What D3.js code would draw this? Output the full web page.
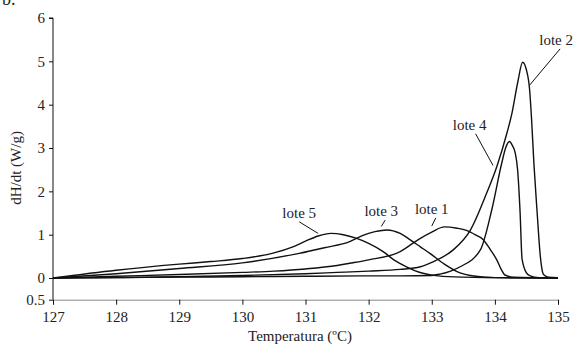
<!DOCTYPE html>
<html>
<head>
<meta charset="utf-8">
<script src="https://cdn.jsdelivr.net/npm/d3@7"></script>
<style>
  body { margin: 0; background: #fff; }
  svg { display: block; font-family: "Liberation Serif", "DejaVu Serif", serif; }
</style>
</head>
<body>
<svg id="chart" width="573" height="349"></svg>
<script>
// x ticks (temperature, ºC) and y ticks (dH/dt, W/g)
const xTicks = [127, 128, 129, 130, 131, 132, 133, 134, 135];
const yTicks = [-0.5, 0, 1, 2, 3, 4, 5, 6];

// curves: [temperature, dH/dt]
const lote1 = [[127,0],[128,0.04],[129,0.08],[130,0.13],[130.5,0.16],[131,0.21],[131.5,0.29],[131.7,0.34],
  [132,0.42],[132.5,0.61],[132.8,0.9],[133,1.06],[133.2,1.18],[133.4,1.15],[133.55,1.1],[133.7,0.99],
  [133.82,0.88],[133.93,0.65],[134.03,0.42],[134.1,0.2],[134.16,0.07],[134.3,0.02],[135,0]];
const lote2 = [[127,0],[128,0.01],[129,0.03],[130,0.06],[131,0.1],[131.5,0.13],[132,0.16],[132.5,0.2],
  [132.82,0.26],[133,0.36],[133.34,0.65],[133.61,1.1],[133.87,1.96],[134.03,2.57],[134.19,3.34],
  [134.27,3.8],[134.36,4.5],[134.44,4.98],[134.5,4.8],[134.55,4.35],[134.58,3.7],[134.62,2.6],
  [134.67,1.5],[134.72,0.5],[134.77,0.08],[134.85,0.02],[135,0.01]];
const lote3 = [[127,0],[128,0.1],[129,0.22],[130,0.35],[130.9,0.57],[131.3,0.7],[131.7,0.84],[131.9,0.98],
  [132.1,1.07],[132.29,1.11],[132.5,1.03],[132.66,0.88],[132.82,0.72],[132.97,0.57],[133.2,0.32],
  [133.4,0.15],[133.7,0.04],[134,0.01],[135,0]];
const lote4 = [[127,0],[128,0.01],[129,0.02],[130,0.03],[131,0.04],[132,0.05],[132.5,0.05],[133,0.06],
  [133.13,0.09],[133.3,0.16],[133.45,0.26],[133.77,0.65],[133.95,1.57],[134.11,2.66],[134.17,3.0],
  [134.23,3.15],[134.28,3.05],[134.32,2.9],[134.36,2.5],[134.4,1.5],[134.43,0.45],[134.5,0.12],
  [134.56,0.05],[134.7,0.01],[135,0]];
const lote5 = [[127,0],[128,0.18],[129,0.32],[129.5,0.38],[130,0.45],[130.5,0.58],[130.8,0.72],[131,0.85],
  [131.2,0.97],[131.4,1.03],[131.6,1.0],[131.8,0.92],[132,0.8],[132.23,0.61],[132.4,0.42],[132.6,0.26],
  [132.86,0.11],[133.1,0.05],[133.5,0.02],[134,0.01],[135,0]];

const series = [lote1, lote2, lote3, lote4, lote5];

// labels: name, text position (data units) and the point on the curve the pointer goes to
const labels = [
  { name: "lote 5", at: [130.9, 1.39], to: [131.2, 1.03] },
  { name: "lote 3", at: [132.2, 1.43], to: [132.2, 1.19] },
  { name: "lote 1", at: [133.0, 1.48], to: [133.0, 1.2] },
  { name: "lote 4", at: [133.6, 3.42], to: [133.97, 2.6] },
  { name: "lote 2", at: [134.97, 5.38], to: [134.55, 4.45] }
];

const svg = d3.select("#chart");

const x = d3.scaleLinear().domain([127, 135]).range([53, 558]);
const y = d3.scaleLinear().domain([-0.5, 6]).range([299.7, 18]);

// y axis
svg.append("g")
  .attr("transform", `translate(${x(127)},0)`)
  .call(d3.axisLeft(y).tickValues(yTicks).tickSize(4).tickPadding(4)
    .tickFormat(d => d < 0 ? String(Math.abs(d)) : d))
  .call(g => g.select(".domain").attr("stroke", "#111").attr("d", `M-4,${y(6)}H0V${y(-0.5)}`))
  .call(g => g.selectAll(".tick line").attr("stroke", "#111"))
  .call(g => g.selectAll("text").attr("fill", "#222").attr("font-size", 15)
    .attr("font-family", "Liberation Serif"));

// x axis
svg.append("g")
  .attr("transform", `translate(0,${y(-0.5)})`)
  .call(d3.axisBottom(x).tickValues(xTicks).tickSize(5).tickPadding(7).tickFormat(d3.format("d")))
  .call(g => g.select(".domain").attr("stroke", "#888"))
  .call(g => g.selectAll(".tick line").attr("stroke", "#111"))
  .call(g => g.selectAll("text").attr("fill", "#222").attr("font-size", 15)
    .attr("font-family", "Liberation Serif"));

// curves
const line = d3.line()
  .x(d => x(d[0]))
  .y(d => y(d[1]))
  .curve(d3.curveMonotoneX);

svg.append("g").selectAll("path")
  .data(series)
  .join("path")
  .attr("d", line)
  .attr("fill", "none")
  .attr("stroke", "#111")
  .attr("stroke-width", 1.4);

// labels with pointer lines
const lab = svg.append("g");
labels.forEach(l => {
  lab.append("text")
    .attr("x", x(l.at[0]))
    .attr("y", y(l.at[1]))
    .attr("text-anchor", "middle")
    .attr("font-size", 15)
    .attr("fill", "#222")
    .text(l.name);
  lab.append("line")
    .attr("x1", x(l.at[0]) + (l.name === "lote 4" ? 6 : l.name === "lote 5" ? 0 : 4))
    .attr("y1", y(l.at[1]) + 4)
    .attr("x2", x(l.to[0]))
    .attr("y2", y(l.to[1]))
    .attr("stroke", "#111")
    .attr("stroke-width", 1);
});

// axis titles
svg.append("text")
  .attr("x", 300).attr("y", 341)
  .attr("text-anchor", "middle")
  .attr("font-size", 15).attr("fill", "#222")
  .text("Temperatura (ºC)");

svg.append("text")
  .attr("transform", "translate(21,168) rotate(-90)")
  .attr("text-anchor", "middle")
  .attr("font-size", 15).attr("fill", "#222")
  .text("dH/dt (W/g)");

// panel letter, cut off by the top edge in the source
svg.append("text")
  .attr("x", 2).attr("y", 5)
  .attr("font-size", 18).attr("fill", "#222")
  .text("b.");
</script>
</body>
</html>
